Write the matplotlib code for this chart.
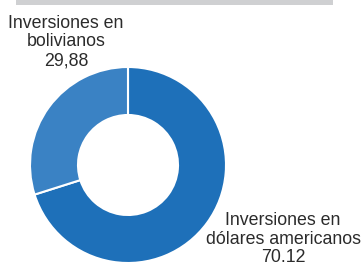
import matplotlib
matplotlib.use("Agg")
import matplotlib.pyplot as plt
from matplotlib.patches import Rectangle

labels = ["Inversiones en\ndólares americanos\n70.12", "Inversiones en\nbolivianos\n29,88"]
values = [70.12, 29.88]
colors = ["#1e70b9", "#3a82c4"]

W, H = 362, 268
fig = plt.figure(figsize=(W / 100, H / 100), dpi=100)
ax = fig.add_axes([0, 0, 1, 1])
ax.set_xlim(0, W)
ax.set_ylim(0, H)
ax.set_aspect("equal")
ax.axis("off")

# grey band at top
ax.add_patch(Rectangle((16, H - 5), 317, 5, color="#cfd0d2", lw=0))

ax.pie(values, colors=colors, startangle=90, counterclock=False,
       center=(128, H - 165), radius=98,
       wedgeprops=dict(width=48, edgecolor="white", linewidth=1.5))
ax.set_xlim(0, W)
ax.set_ylim(0, H)

font = dict(family=["Liberation Sans", "DejaVu Sans"], fontsize=12.8,
            color="#2b2b2b", ha="center", va="center", linespacing=1.15)
ax.text(66, H - 42, labels[1], **font)
ax.text(283, H - 239, labels[0], **font)

fig.savefig("out.png", dpi=100)
